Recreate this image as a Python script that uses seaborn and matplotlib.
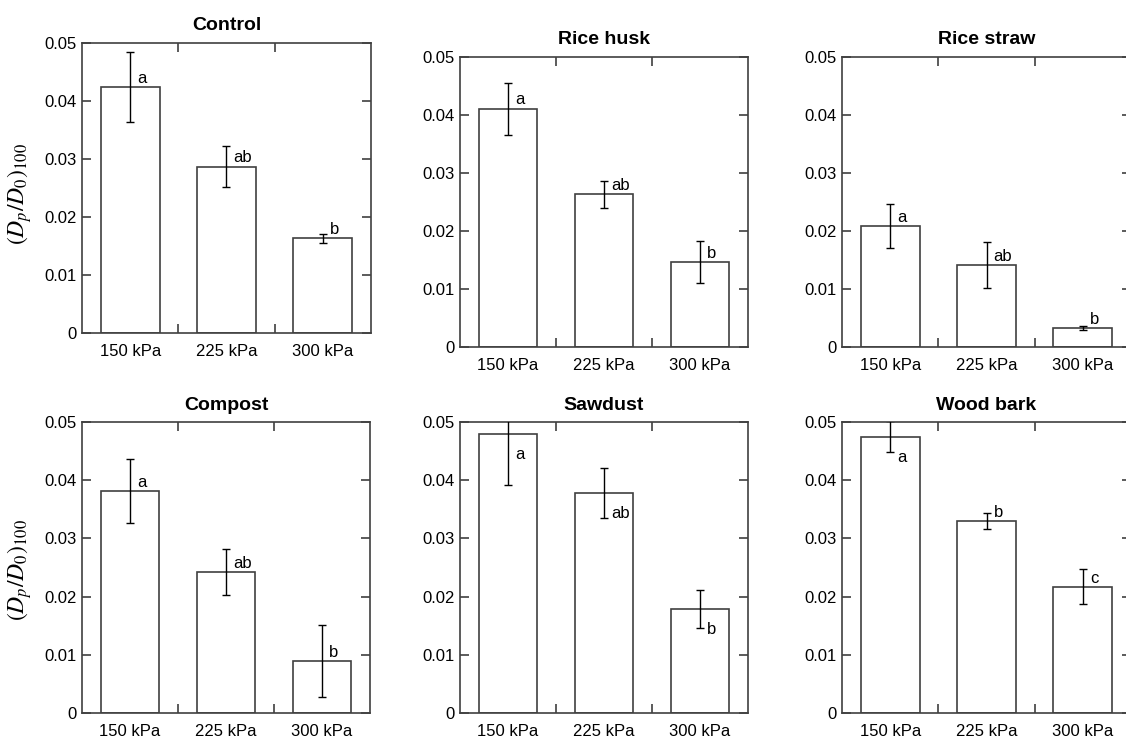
import numpy as np
import pandas as pd
import matplotlib
matplotlib.use("Agg")
import matplotlib.pyplot as plt
import seaborn as sns
from matplotlib.ticker import FixedLocator, FuncFormatter

# ---------------- data ----------------
pressures = ["150 kPa", "225 kPa", "300 kPa"]
treatments = ["Control", "Rice husk", "Rice straw", "Compost", "Sawdust", "Wood bark"]

control = [0.0424, 0.0287, 0.0163]
control_err = [0.0060, 0.0035, 0.0008]
rice_husk = [0.0411, 0.0263, 0.0146]
rice_husk_err = [0.0045, 0.0023, 0.0036]
rice_straw = [0.0208, 0.0141, 0.0033]
rice_straw_err = [0.0038, 0.0040, 0.0004]
compost = [0.0382, 0.0242, 0.0089]
compost_err = [0.0055, 0.0039, 0.0062]
sawdust = [0.0479, 0.0378, 0.0179]
sawdust_err = [0.0087, 0.0043, 0.0033]
wood_bark = [0.0475, 0.0330, 0.0217]
wood_bark_err = [0.0027, 0.0014, 0.0030]

control_letters = ["a", "ab", "b"]
rice_husk_letters = ["a", "ab", "b"]
rice_straw_letters = ["a", "ab", "b"]
compost_letters = ["a", "ab", "b"]
sawdust_letters = ["a", "ab", "b"]
wood_bark_letters = ["a", "b", "c"]

y_ticks = [0, 0.01, 0.02, 0.03, 0.04, 0.05]
y_label = r"$(D_p/D_0)_{100}$"

means = [control, rice_husk, rice_straw, compost, sawdust, wood_bark]
errs = [control_err, rice_husk_err, rice_straw_err, compost_err, sawdust_err, wood_bark_err]
letters = [control_letters, rice_husk_letters, rice_straw_letters,
           compost_letters, sawdust_letters, wood_bark_letters]

# letter placement style: above or below bar top
placement = [["up"] * 3, ["up"] * 3, ["up"] * 3, ["up"] * 3,
             ["down"] * 3, ["down", "up", "up"]]

# ---------------- style ----------------
sns.set_style("ticks")
plt.rcParams["font.family"] = ["Liberation Sans", "DejaVu Sans"]
plt.rcParams["mathtext.fontset"] = "stix"
plt.rcParams["text.color"] = "black"
plt.rcParams["axes.labelcolor"] = "black"
plt.rcParams["xtick.labelcolor"] = "black"
plt.rcParams["ytick.labelcolor"] = "black"

W, H = 1126, 738
fig = plt.figure(figsize=(W / 100, H / 100), dpi=100)
fig.patch.set_facecolor("white")

boxes = [(82, 43, 289, 290), (460, 57, 288, 290), (842, 57, 289, 290),
         (82, 422, 288, 291), (460, 422, 288, 291), (842, 422, 289, 291)]

spine_c = "#404040"

for i, (l, t, w, h) in enumerate(boxes):
    ax = fig.add_axes([l / W, 1 - (t + h) / H, w / W, h / H])
    df = pd.DataFrame({"pressure": pressures, "value": means[i]})
    sns.barplot(data=df, x="pressure", y="value", ax=ax, color="white",
                edgecolor=spine_c, linewidth=1.2, width=0.61, errorbar=None,
                saturation=1)
    ax.errorbar(np.arange(3), means[i], yerr=errs[i], fmt="none",
                ecolor="black", elinewidth=1.0, capsize=3.2, capthick=1.0, zorder=5)
    for j in range(3):
        dy = 3 if placement[i][j] == "up" else -18
        ax.annotate(letters[i][j], (j, means[i][j]), xytext=(5, dy),
                    textcoords="offset points", ha="left", va="baseline",
                    fontsize=12, color="black")
    ax.set_xlim(-0.5, 2.5)
    ax.set_ylim(0, 0.05)
    ax.set_yticks(y_ticks)
    ax.yaxis.set_major_formatter(FuncFormatter(lambda v, p: "0" if abs(v) < 1e-12 else f"{v:.2f}"))
    ax.xaxis.set_minor_locator(FixedLocator([0.5, 1.5]))
    ax.tick_params(axis="x", which="major", length=0, pad=8, labelsize=12)
    ax.tick_params(axis="x", which="minor", direction="in", length=6.5, width=1.2,
                   top=True, bottom=True, color=spine_c)
    ax.tick_params(axis="y", which="major", direction="in", length=6.5, width=1.2,
                   left=True, right=True, pad=4, labelsize=12, color=spine_c)
    ax.set_xlabel("")
    if i % 3 == 0:
        ax.set_ylabel(y_label, fontsize=17)
        ax.yaxis.set_label_coords(-0.165, 0.48 if i == 0 else 0.49)
    else:
        ax.set_ylabel("")
    ax.set_title(treatments[i], fontsize=14, fontweight="bold", pad=9, color="black")
    for s in ax.spines.values():
        s.set_visible(True)
        s.set_color(spine_c)
        s.set_linewidth(1.2)

fig.savefig("out.png", dpi=100, facecolor="white")
